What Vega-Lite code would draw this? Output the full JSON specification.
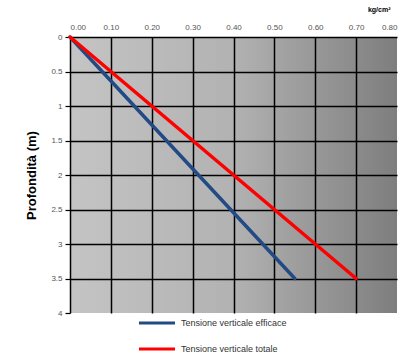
{
  "$schema": "https://vega.github.io/schema/vega-lite/v6.json",
  "width": 327,
  "height": 276,
  "autosize": {"type": "none"},
  "padding": {"left": 70, "top": 37, "right": 8, "bottom": 40},
  "background": "white",
  "config": {
    "font": "Liberation Sans",
    "view": {
      "stroke": null,
      "fill": {
        "gradient": "linear",
        "x1": 0, "y1": 0, "x2": 1, "y2": 0,
        "stops": [
          {"offset": 0, "color": "#c4c4c4"},
          {"offset": 0.5, "color": "#b2b2b2"},
          {"offset": 1, "color": "#7e7e7e"}
        ]
      }
    },
    "axis": {
      "gridColor": "#000000",
      "gridWidth": 1.5,
      "gridOpacity": 1,
      "domain": false,
      "tickColor": "#000000",
      "tickSize": 5,
      "tickWidth": 1.2,
      "labelColor": "#555555",
      "labelFontSize": 8,
      "labelFont": "Liberation Sans"
    }
  },
  "data": {
    "values": [
      {"serie": "Tensione verticale efficace", "sigma": 0.0, "z": 0.0},
      {"serie": "Tensione verticale efficace", "sigma": 0.55, "z": 3.5},
      {"serie": "Tensione verticale totale", "sigma": 0.0, "z": 0.0},
      {"serie": "Tensione verticale totale", "sigma": 0.70, "z": 3.5}
    ]
  },
  "mark": {"type": "line", "strokeWidth": 3.5, "strokeCap": "round", "clip": false},
  "encoding": {
    "x": {
      "field": "sigma",
      "type": "quantitative",
      "scale": {"domain": [0, 0.8], "nice": false, "zero": true},
      "axis": {
        "orient": "top",
        "values": [0, 0.1, 0.2, 0.3, 0.4, 0.5, 0.6, 0.7, 0.8],
        "format": ".2f",
        "tickSize": 0,
        "labelPadding": 6,
        "gridOpacity": {"condition": {"test": "datum.value > 0.79", "value": 0}, "value": 1},
        "title": "kg/cm²",
        "titleFontSize": 7,
        "titleFontWeight": "bold",
        "titleColor": "#000000",
        "titleAnchor": "end",
        "titleAlign": "right",
        "titleX": 320,
        "titleY": -25
      }
    },
    "y": {
      "field": "z",
      "type": "quantitative",
      "scale": {"domain": [0, 4], "reverse": true, "nice": false},
      "axis": {
        "values": [0, 0.5, 1, 1.5, 2, 2.5, 3, 3.5, 4],
        "format": "~g",
        "labelPadding": 3,
        "gridOpacity": {"condition": {"test": "datum.value > 3.9", "value": 0}, "value": 1},
        "title": "Profondità (m)",
        "titleFontSize": 13,
        "titleFontWeight": "bold",
        "titleColor": "#000000",
        "titlePadding": 12
      }
    },
    "color": {
      "field": "serie",
      "type": "nominal",
      "scale": {
        "domain": ["Tensione verticale efficace", "Tensione verticale totale"],
        "range": ["#224a84", "#ff0000"]
      },
      "legend": {
        "title": null,
        "orient": "none",
        "legendX": 67,
        "legendY": 266,
        "direction": "vertical",
        "symbolType": "stroke",
        "symbolSize": 1300,
        "symbolStrokeWidth": 3,
        "rowPadding": -11,
        "labelFontSize": 9,
        "labelColor": "#333333",
        "labelOffset": 4
      }
    },
    "detail": {"field": "serie"}
  }
}
